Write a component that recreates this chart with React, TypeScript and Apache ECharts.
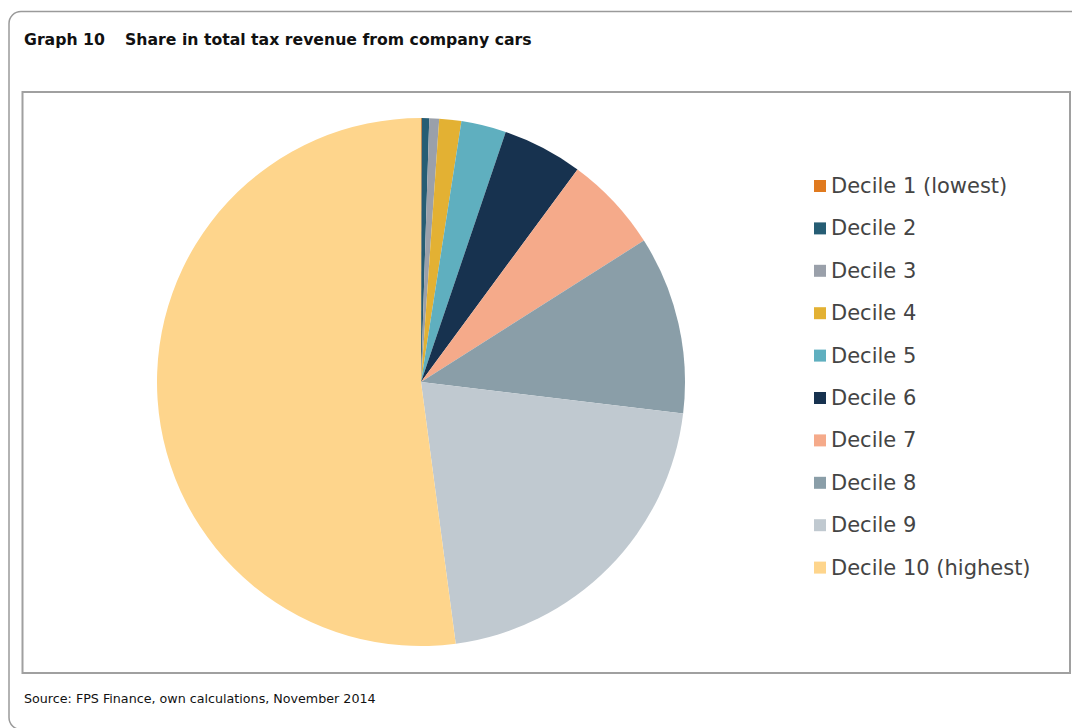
import React, { useEffect, useRef } from "react";
import * as echarts from "echarts";

const categories = [
  "Decile 1 (lowest)",
  "Decile 2",
  "Decile 3",
  "Decile 4",
  "Decile 5",
  "Decile 6",
  "Decile 7",
  "Decile 8",
  "Decile 9",
  "Decile 10 (highest)",
];
const shares = [0.05, 0.45, 0.6, 1.35, 2.75, 4.9, 5.9, 10.9, 21.0, 52.1];
const colors = [
  "#E07A1F",
  "#265D74",
  "#9AA0AA",
  "#E3B133",
  "#5FAFBF",
  "#17324F",
  "#F5AA8A",
  "#8A9EA8",
  "#C0C9D0",
  "#FED58C",
];
const titleLabel = "Graph 10";
const titleText = "Share in total tax revenue from company cars";
const sourceText = "Source: FPS Finance, own calculations, November 2014";

export default function App() {
  const ref = useRef<HTMLDivElement>(null);
  useEffect(() => {
    if (!ref.current) return;
    const chart = echarts.init(ref.current, undefined, { renderer: "svg" });
    const font = "'DejaVu Sans', sans-serif";
    chart.setOption({
      animation: false,
      backgroundColor: "#ffffff",
      color: colors,
      legend: {
        orient: "vertical",
        left: 814,
        top: 175,
        padding: 0,
        itemWidth: 12,
        itemHeight: 12,
        itemGap: 20.4,
        icon: "rect",
        data: categories,
        textStyle: { fontSize: 21, color: "#444444", fontFamily: font, lineHeight: 22 },
        selectedMode: false,
      },
      graphic: [
        {
          type: "rect",
          shape: { x: 9, y: 11.5, width: 1100, height: 718, r: 12 },
          style: { fill: "none", stroke: "#9a9a9a", lineWidth: 1.5 },
          silent: true,
        },
        {
          type: "rect",
          shape: { x: 22.5, y: 92, width: 1047.5, height: 581 },
          style: { fill: "none", stroke: "#a0a0a0", lineWidth: 2 },
          silent: true,
        },
        {
          type: "text",
          left: 24,
          top: 31,
          style: { text: titleLabel, font: `bold 15.7px ${font}`, fill: "#111111" },
        },
        {
          type: "text",
          left: 125,
          top: 31,
          style: { text: titleText, font: `bold 15.7px ${font}`, fill: "#111111" },
        },
        {
          type: "text",
          left: 24,
          top: 692,
          style: { text: sourceText, font: `12.7px ${font}`, fill: "#111111" },
        },
      ],
      series: [
        {
          type: "pie",
          center: [421, 382],
          radius: 264,
          startAngle: 90,
          clockwise: true,
          label: { show: false },
          labelLine: { show: false },
          emphasis: { disabled: true },
          itemStyle: { borderWidth: 0 },
          data: categories.map((name, i) => ({ name, value: shares[i] })),
        },
      ],
    });
    return () => chart.dispose();
  }, []);
  return (
    <div
      ref={ref}
      style={{ position: "fixed", left: 0, top: 0, width: 1072, height: 728 }}
    />
  );
}
